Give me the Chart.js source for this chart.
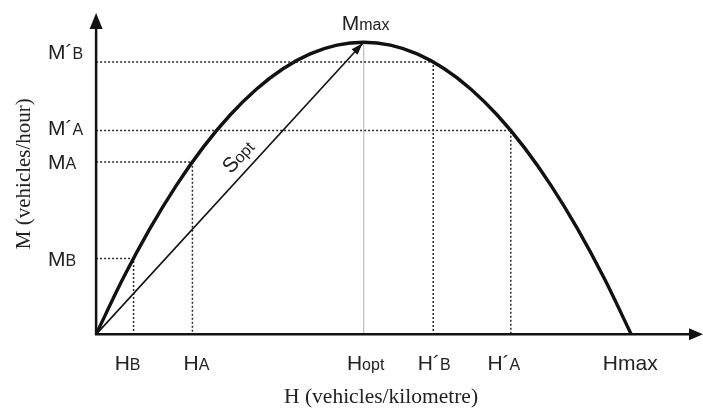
<!DOCTYPE html>
<html>
<head>
<meta charset="utf-8">
<script src="https://cdn.jsdelivr.net/npm/chart.js@4/dist/chart.umd.min.js"></script>
<style>
  html, body { margin: 0; padding: 0; background: #fff; }
  #chart { display: block; }
</style>
</head>
<body>
<canvas id="chart" width="703" height="409"></canvas>
<script>
// flow curve M(H) (Hmax = 100, Mmax = 100)
const curveH = [0, 5, 10, 15, 20, 25, 30, 35, 40, 45, 50, 55, 60, 65, 70, 75, 80, 85, 90, 95, 100];
const curveM = [0, 19, 36, 51, 64, 75, 84, 91, 96, 99, 100, 99, 96, 91, 84, 75, 64, 51, 36, 19, 0];

// dotted guides: B, A, B', A'
const guideH = [7, 18, 63, 77.5];
const guideM = [26, 59, 93.2, 69.8];
const mTickLabels = [['M', 'B'], ['M', 'A'], ['M´', 'B'], ['M´', 'A']];
const hTickLabels = [['H', 'B'], ['H', 'A'], ['H´', 'B'], ['H´', 'A']];

const optH = 50;
const optM = 100;
const maxH = 100;

const SANS = "'Liberation Sans', Arial, sans-serif";
const SERIF = "'Liberation Serif', 'Times New Roman', serif";
const INK = '#111';

function toPoints(xs, ys) {
    return xs.map((x, i) => ({ x: x, y: ys[i] }));
}

const datasets = [];

datasets.push({
    label: 'curve',
    data: toPoints(curveH, curveM),
    borderColor: INK,
    borderWidth: 3.4,
    cubicInterpolationMode: 'monotone',
    order: 0
});

guideH.forEach((h, i) => {
    datasets.push({
        label: 'guide' + i,
        data: [{ x: 0, y: guideM[i] }, { x: h, y: guideM[i] }, { x: h, y: 0 }],
        borderColor: '#2a2a2a',
        borderWidth: 1.5,
        borderDash: [2, 2],
        tension: 0,
        order: 2
    });
});

datasets.push({
    label: 'Hopt',
    data: [{ x: optH, y: optM }, { x: optH, y: 0 }],
    borderColor: '#c4c4c4',
    borderWidth: 1,
    order: 3
});

datasets.push({
    label: 'Sopt',
    data: [{ x: 0, y: 0 }, { x: optH, y: optM }],
    borderColor: INK,
    borderWidth: 1.6,
    order: 1
});

// text with a smaller second part (subscript-like)
function drawMixed(ctx, parts, x, y, align) {
    const big = 21, small = 16;
    ctx.font = big + 'px ' + SANS;
    const w1 = ctx.measureText(parts[0]).width;
    ctx.font = small + 'px ' + SANS;
    const w2 = parts[1] ? ctx.measureText(parts[1]).width : 0;
    const total = w1 + w2;
    let start = x;
    if (align === 'center') start = x - total / 2;
    if (align === 'right') start = x - total;
    const base = y + 7.5;
    ctx.fillStyle = '#222';
    ctx.textAlign = 'left';
    ctx.textBaseline = 'alphabetic';
    ctx.font = big + 'px ' + SANS;
    ctx.fillText(parts[0], start, base);
    if (parts[1]) {
        ctx.font = small + 'px ' + SANS;
        ctx.fillText(parts[1], start + w1, base);
    }
}

function arrowHead(ctx, tx, ty, angle, len, half) {
    ctx.save();
    ctx.translate(tx, ty);
    ctx.rotate(angle);
    ctx.beginPath();
    ctx.moveTo(0, 0);
    ctx.lineTo(-len, -half);
    ctx.lineTo(-len, half);
    ctx.closePath();
    ctx.fill();
    ctx.restore();
}

const diagramPlugin = {
    id: 'diagram',
    afterDatasetsDraw(chart) {
        const ctx = chart.ctx;
        const xs = chart.scales.x;
        const ys = chart.scales.y;
        const area = chart.chartArea;
        const ox = xs.getPixelForValue(0);
        const oy = ys.getPixelForValue(0);

        ctx.save();
        ctx.strokeStyle = INK;
        ctx.fillStyle = INK;
        ctx.lineWidth = 2.5;

        // axes
        ctx.beginPath();
        ctx.moveTo(ox, oy + 1);
        ctx.lineTo(ox, area.top + 12);
        ctx.moveTo(ox - 1, oy);
        ctx.lineTo(chart.width - 10, oy);
        ctx.stroke();
        arrowHead(ctx, ox, area.top, -Math.PI / 2, 16, 6.5);
        arrowHead(ctx, chart.width, oy, 0, 14, 6);

        // Sopt arrow head
        const px = xs.getPixelForValue(optH);
        const py = ys.getPixelForValue(optM);
        const ang = Math.atan2(py - oy, px - ox);
        arrowHead(ctx, px - 1, py + 1, ang, 12, 4);

        // y labels
        const yShift = [0, 0, -11, -3];
        guideM.forEach((m, i) => {
            drawMixed(ctx, mTickLabels[i], 48, ys.getPixelForValue(m) + yShift[i], 'left');
        });

        // x labels
        const xShift = [-6, 4, 1, -7];
        const labY = oy + 28;
        guideH.forEach((h, i) => {
            drawMixed(ctx, hTickLabels[i], xs.getPixelForValue(h) + xShift[i], labY, 'center');
        });
        drawMixed(ctx, ['H', 'opt'], px + 2, labY, 'center');
        drawMixed(ctx, ['Hmax'], xs.getPixelForValue(maxH) - 1, labY, 'center');

        // Mmax above the peak
        drawMixed(ctx, ['M', 'max'], px + 2, py - 20, 'center');

        // Sopt along the arrow
        const len = Math.hypot(px - ox, py - oy);
        const dx = (px - ox) / len, dy = (py - oy) / len;
        const t = 0.573 * len;
        const cx = ox + dx * t + dy * 16;
        const cy = oy + dy * t - dx * 16;
        ctx.translate(cx, cy);
        ctx.rotate(ang);
        drawMixed(ctx, ['S', 'opt'], 0, 0, 'center');
        ctx.restore();
    }
};

new Chart(document.getElementById('chart'), {
    type: 'scatter',
    data: { datasets: datasets },
    options: {
        responsive: false,
        devicePixelRatio: 1,
        animation: false,
        showLine: true,
        elements: { point: { radius: 0, hoverRadius: 0 } },
        layout: { padding: { top: 13, right: 37, left: 0, bottom: 0 } },
        plugins: {
            legend: { display: false },
            tooltip: { enabled: false }
        },
        scales: {
            x: {
                type: 'linear',
                min: 0,
                max: 106.5,
                grid: { display: false, drawTicks: false },
                border: { display: false },
                ticks: { display: false },
                title: {
                    display: true,
                    text: 'H (vehicles/kilometre)',
                    color: '#222',
                    font: { family: SERIF, size: 21.5, lineHeight: 1.1 },
                    padding: { top: 51, bottom: 0 }
                }
            },
            y: {
                type: 'linear',
                min: 0,
                max: 110,
                grid: { display: false, drawTicks: false },
                border: { display: false },
                ticks: { display: false },
                title: {
                    display: true,
                    text: 'M (vehicles/hour)',
                    color: '#222',
                    font: { family: SERIF, size: 21, lineHeight: 1.1 },
                    padding: { top: 13, bottom: 60 }
                }
            }
        }
    },
    plugins: [diagramPlugin]
});
</script>
</body>
</html>
